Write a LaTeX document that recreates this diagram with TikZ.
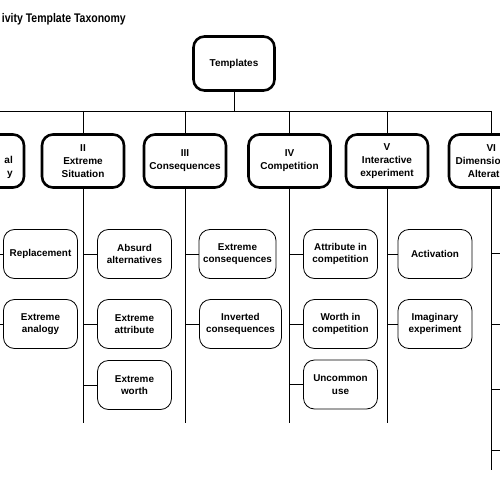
\documentclass[tikz,border=0pt]{standalone}
\usepackage{fontspec}
\setmainfont{Liberation Sans}
\newfontfamily\titlefont{Liberation Sans Bold}[FakeStretch=0.84]
\begin{document}
\begin{tikzpicture}[x=1pt,y=-1pt,
  lvlbox/.style={draw,line width=2.6pt,rounded corners=11pt,minimum width=82pt,minimum height=53pt,align=center,inner sep=1pt,font=\bfseries\fontsize{10}{13}\selectfont},
  lvltext/.style={inner sep=0pt,font=\bfseries\fontsize{10}{13}\selectfont},
  leaf/.style={draw,line width=0.8pt,rounded corners=11pt,minimum width=74pt,minimum height=49pt,align=center,inner sep=1pt,font=\bfseries\fontsize{9.9}{12.5}\selectfont},
  link/.style={line width=0.9pt}]
\useasboundingbox (0,0) rectangle (500,500);
\clip (0,0) rectangle (500,500);
\node[anchor=base east,inner sep=0pt,font=\titlefont\fontsize{12.5}{14}\selectfont] (title) at (126,22.5) {ivity Template Taxonomy};
\node[lvlbox,minimum width=81pt,minimum height=54pt] (root) at (234,63.5) {Templates};
\coordinate (busL) at (-7,111);
\coordinate (busR) at (491,111);
\draw[link] (root) -- (root |- busL);
\draw[link] (busL) -- (busR);
% level 2
\node[lvlbox,minimum width=62pt] (t1) at (-7,161) {};
\node[lvltext,align=right,anchor=east] (t1txt) at (13,161) {\phantom{I}\\al\\y};
\node[lvlbox] (t2) at (83,161) {II\\Extreme\\Situation};
\node[lvlbox] (t3) at (185,161) {III\\Consequences};
\node[lvlbox] (t4) at (289.5,161) {IV\\Competition};
\node[lvlbox] (t5) at (387,161) {V\\Interactive\\experiment};
\node[lvlbox,minimum width=84pt] (t6) at (491,161) {};
\node[lvltext,align=left,anchor=west] (t6txt) at (455.4,161) {\hspace{30.9pt}VI\\Dimensio\\\hspace{12.3pt}Alterat};
\foreach \t in {t1,t2,t3,t4,t5,t6}{\draw[link] (\t |- busL) -- (\t.north);}
\coordinate (e1) at (-7,423);
\coordinate (e2) at (83,423);
\coordinate (e3) at (185,423);
\coordinate (e4) at (289.5,423);
\coordinate (e5) at (387,423);
\coordinate (e6) at (491,470);
\draw[link] (t1.south) -- (e1);
\draw[link] (t2.south) -- (e2);
\draw[link] (t3.south) -- (e3);
\draw[link] (t4.south) -- (e4);
\draw[link] (t5.south) -- (e5);
\draw[link] (t6.south) -- (e6);
% leaves
\node[leaf] (l11) at (40.5,254) {Replacement};
\node[leaf] (l12) at (40.5,324) {Extreme\\analogy};
\node[leaf] (l21) at (134.5,254) {Absurd\\alternatives};
\node[leaf] (l22) at (134.5,324) {Extreme\\attribute};
\node[leaf] (l23) at (134.5,385) {Extreme\\worth};
\node[leaf,minimum width=77pt] (l31) at (237.5,254) {Extreme\\consequences};
\node[leaf,minimum width=82pt] (l32) at (240.5,324) {Inverted\\consequences};
\node[leaf] (l41) at (340.5,254) {Attribute in\\competition};
\node[leaf] (l42) at (340.5,324) {Worth in\\competition};
\node[leaf] (l43) at (340.5,384.5) {Uncommon\\use};
\node[leaf] (l51) at (435,254) {Activation};
\node[leaf] (l52) at (435,324) {Imaginary\\experiment};
\foreach \l/\t in {l11/t1,l12/t1,l21/t2,l22/t2,l23/t2,l31/t3,l32/t3,l41/t4,l42/t4,l43/t4,l51/t5,l52/t5}{
  \draw[link] (\l.west -| \t) -- (\l.west);}
\coordinate (v1) at (505,253);
\coordinate (v2) at (505,324);
\coordinate (v3) at (505,389);
\coordinate (v4) at (505,450);
\foreach \v in {v1,v2,v3,v4}{\draw[link] (\v -| t6) -- (\v);}
\end{tikzpicture}
\end{document}
